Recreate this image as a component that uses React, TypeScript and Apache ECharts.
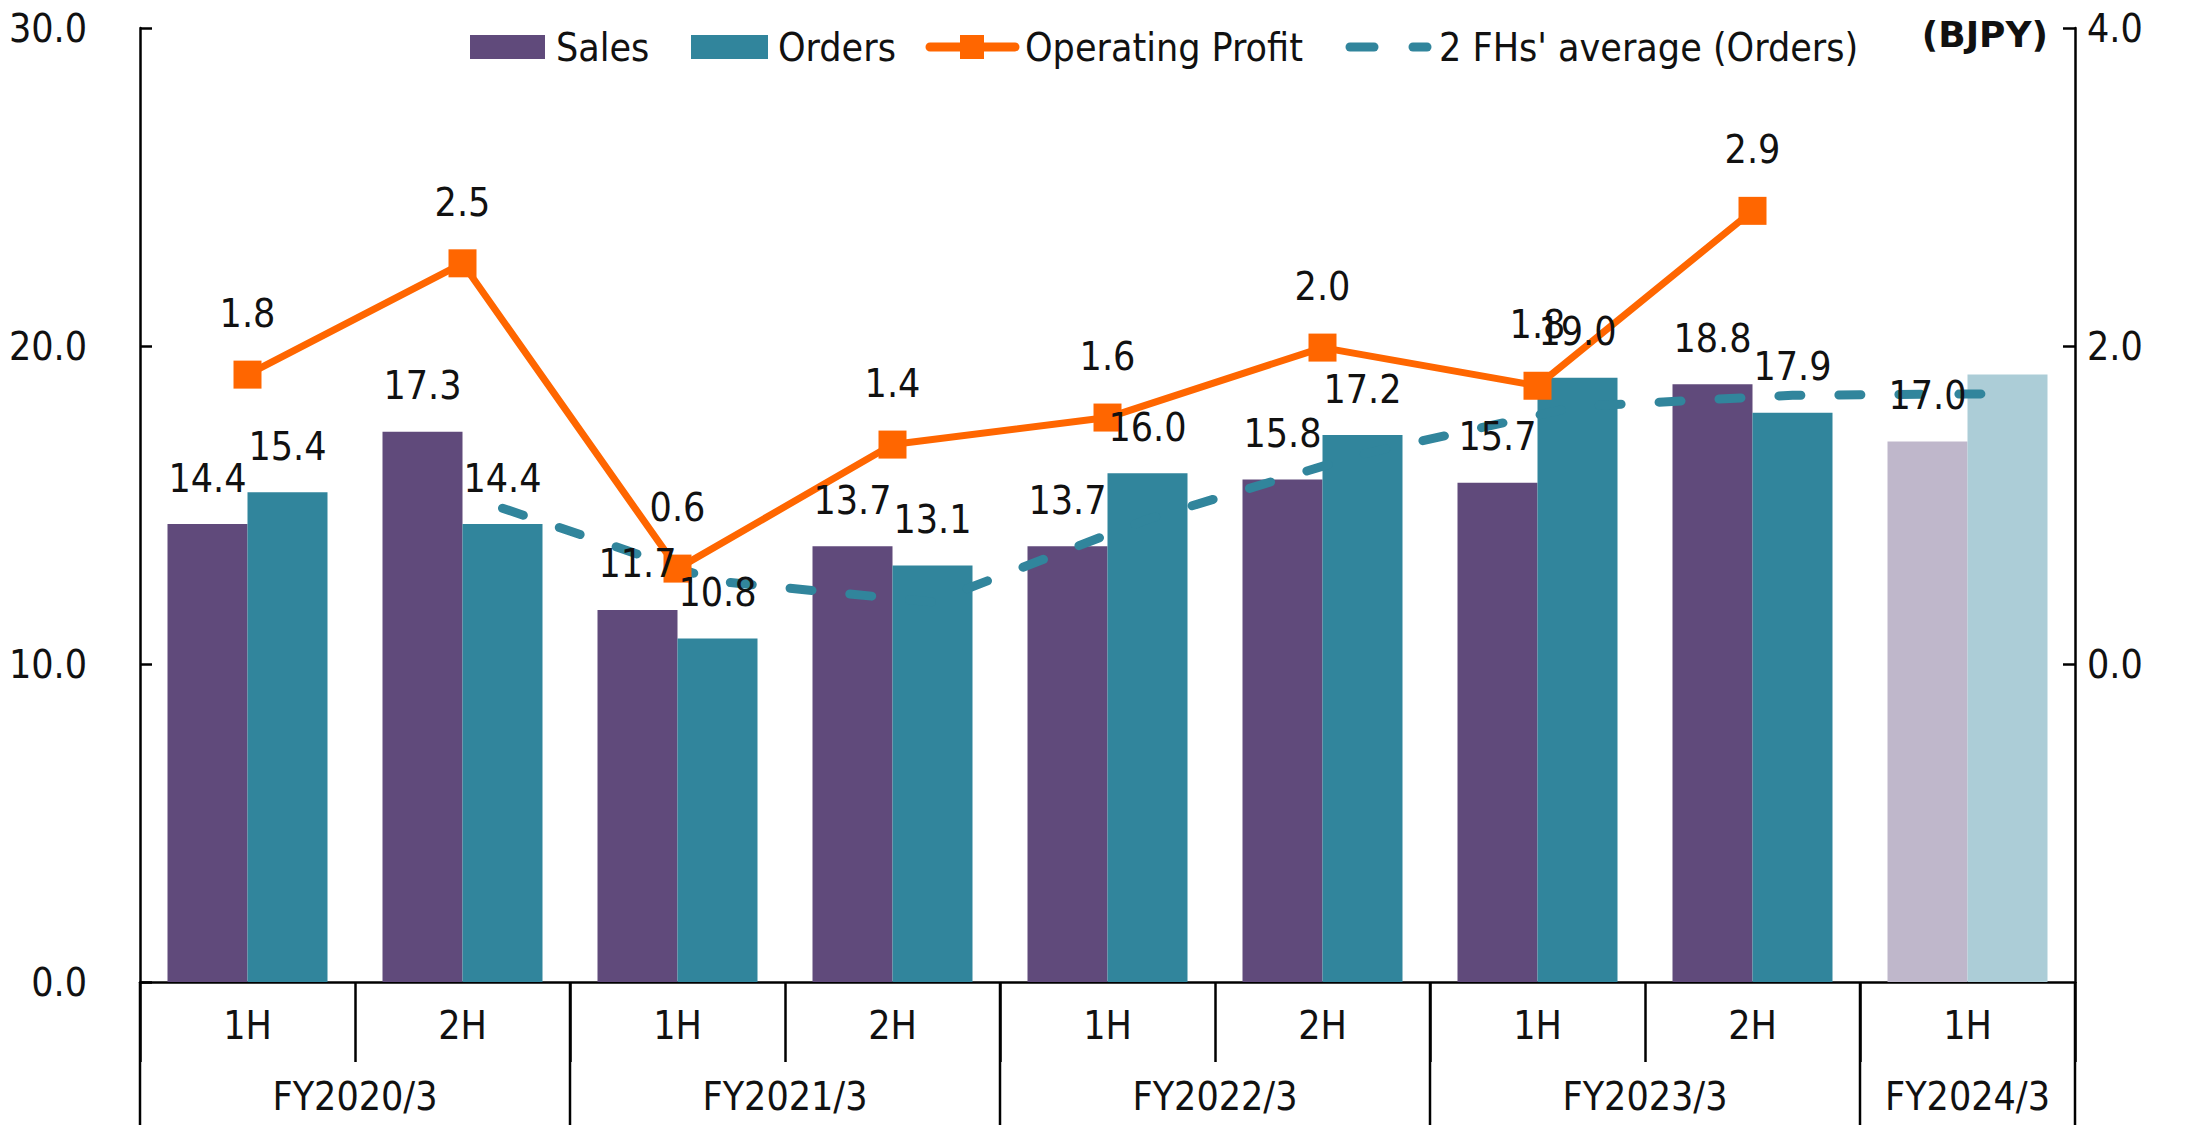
import React, { useEffect, useRef } from "react";
import * as echarts from "echarts";

const categories = ["1H", "2H", "1H", "2H", "1H", "2H", "1H", "2H", "1H"];
const fiscalYears = ["FY2020/3", "FY2021/3", "FY2022/3", "FY2023/3", "FY2024/3"];
const fiscalYearSpans = [2, 2, 2, 2, 1];
const sales = [14.4, 17.3, 11.7, 13.7, 13.7, 15.8, 15.7, 18.8, 17.0];
const orders = [15.4, 14.4, 10.8, 13.1, 16.0, 17.2, 19.0, 17.9, 19.1];
const operatingProfit = [1.82, 2.52, 0.6, 1.38, 1.55, 1.99, 1.75, 2.85, null];
const avgOrders = [null, 14.9, 12.6, 11.95, 14.55, 16.6, 18.1, 18.45, 18.5];
const leftTicks = [0, 10, 20, 30];
const rightTicks = [0, 2, 4];
const planIndex = 8; // last half-year shown in light colours, orders label hidden

const W = 2190;
const H = 1125;
const GRID_L = 140;
const GRID_R = 2075;
const GRID_T = 28;
const GRID_B = 982;
const BAR_W = 80;
const FONT = "'DejaVu Sans Condensed', 'DejaVu Sans', sans-serif";
const FS = 39;
const TXT = "#111111";
const PURPLE = "#604A7B";
const TEAL = "#31859C";
const PURPLE_L = "#BFB7CB";
const TEAL_L = "#ACCDD7";
const ORANGE = "#FF6600";

export default function App() {
  const ref = useRef<HTMLDivElement>(null);
  useEffect(() => {
    if (!ref.current) return;
    const chart = echarts.init(ref.current, undefined, { renderer: "svg" });
    const catW = (GRID_R - GRID_L) / categories.length;

    const fmt = (p: any) => {
      const v = Array.isArray(p.value) ? p.value[1] : p.value;
      return v == null || v === "-" ? "" : Number(v).toFixed(1);
    };
    const labelStyle = {
      show: true,
      position: "top",
      distance: 26,
      fontSize: FS,
      lineHeight: 40,
      color: TXT,
      fontFamily: FONT,
      formatter: fmt,
    };

    const salesData = sales.map((v, i) =>
      i === planIndex ? { value: v, itemStyle: { color: PURPLE_L } } : v
    );
    const ordersData = orders.map((v, i) =>
      i === planIndex ? { value: v, itemStyle: { color: TEAL_L } } : v
    );
    const ordersLabelData = orders.map((v, i) =>
      i === planIndex ? { value: v, label: { show: false } } : v
    );
    const avgPoints = avgOrders
      .map((v, i) => (v == null ? null : [i, v]))
      .filter((p) => p !== null) as number[][];

    // category table lines and fiscal-year labels below the axis
    const graphics: any[] = [];
    let start = 0;
    const boundaries: number[] = [0];
    fiscalYears.forEach((fy, k) => {
      const span = fiscalYearSpans[k];
      const cx = GRID_L + (start + span / 2) * catW;
      graphics.push({
        type: "text",
        x: cx,
        y: 1096,
        style: {
          text: fy,
          fill: TXT,
          font: `${FS}px ${FONT}`,
          align: "center",
          verticalAlign: "middle",
        },
      });
      start += span;
      boundaries.push(start);
    });
    boundaries.forEach((b) => {
      const x = GRID_L + b * catW;
      graphics.push({
        type: "line",
        shape: { x1: x, y1: GRID_B, x2: x, y2: H },
        style: { stroke: "#000", lineWidth: 2.5 },
      });
    });

    // legend
    const LY = 47;
    const legendText = (x: number, t: string) => ({
      type: "text",
      x,
      y: LY,
      style: { text: t, fill: TXT, font: `${FS}px ${FONT}`, align: "left", verticalAlign: "middle" },
    });
    graphics.push(
      { type: "rect", shape: { x: 470, y: LY - 12, width: 75, height: 24 }, style: { fill: PURPLE } },
      legendText(556, "Sales"),
      { type: "rect", shape: { x: 691, y: LY - 12, width: 77, height: 24 }, style: { fill: TEAL } },
      legendText(778, "Orders"),
      {
        type: "line",
        shape: { x1: 930, y1: LY, x2: 1015, y2: LY },
        style: { stroke: ORANGE, lineWidth: 9, lineCap: "round" },
      },
      { type: "rect", shape: { x: 960, y: LY - 12, width: 24, height: 24 }, style: { fill: ORANGE } },
      legendText(1025, "Operating Profit"),
      {
        type: "line",
        shape: { x1: 1350, y1: LY, x2: 1374, y2: LY },
        style: { stroke: TEAL, lineWidth: 9, lineCap: "round" },
      },
      {
        type: "line",
        shape: { x1: 1413, y1: LY, x2: 1427, y2: LY },
        style: { stroke: TEAL, lineWidth: 9, lineCap: "round" },
      },
      legendText(1439, "2 FHs' average (Orders)"),
      {
        type: "text",
        x: 2048,
        y: 34,
        style: {
          text: "(BJPY)",
          fill: TXT,
          font: `bold 36px 'DejaVu Sans', sans-serif`,
          align: "right",
          verticalAlign: "middle",
        },
      }
    );

    const hiddenX = {
      type: "category",
      data: categories,
      boundaryGap: true,
      show: false,
    };

    const option: any = {
      animation: false,
      backgroundColor: "#ffffff",
      textStyle: { fontFamily: FONT, color: TXT },
      grid: {
        left: GRID_L,
        right: W - GRID_R,
        top: GRID_T,
        bottom: H - GRID_B,
        containLabel: false,
      },
      xAxis: [
        {
          type: "category",
          data: categories,
          boundaryGap: true,
          axisLine: { show: true, lineStyle: { color: "#000", width: 2.5 } },
          axisTick: {
            show: true,
            inside: false,
            length: 80,
            alignWithLabel: false,
            lineStyle: { color: "#000", width: 2.5 },
          },
          axisLabel: {
            fontSize: FS,
            color: TXT,
            fontFamily: FONT,
            margin: 24,
            interval: 0,
          },
          splitLine: { show: false },
        },
        hiddenX,
      ],
      yAxis: [
        {
          type: "value",
          min: 0,
          max: 30,
          interval: 10,
          position: "left",
          axisLine: { show: true, lineStyle: { color: "#000", width: 2.5 } },
          axisTick: {
            show: true,
            inside: true,
            length: 12,
            customValues: leftTicks,
            lineStyle: { color: "#000", width: 2.5 },
          },
          axisLabel: {
            fontSize: FS,
            color: TXT,
            fontFamily: FONT,
            margin: 53,
            customValues: leftTicks,
            formatter: (v: number) => v.toFixed(1),
          },
          splitLine: { show: false },
        },
        {
          type: "value",
          min: -2,
          max: 4,
          interval: 2,
          position: "right",
          axisLine: { show: true, lineStyle: { color: "#000", width: 2.5 } },
          axisTick: {
            show: true,
            inside: true,
            length: 12,
            customValues: rightTicks,
            lineStyle: { color: "#000", width: 2.5 },
          },
          axisLabel: {
            fontSize: FS,
            color: TXT,
            fontFamily: FONT,
            margin: 12,
            customValues: rightTicks,
            formatter: (v: number) => (v < 0 ? "" : v.toFixed(1)),
          },
          splitLine: { show: false },
        },
      ],
      series: [
        {
          name: "Sales",
          type: "bar",
          data: salesData,
          barWidth: BAR_W,
          barGap: "0%",
          itemStyle: { color: PURPLE },
          z: 2,
        },
        {
          name: "Orders",
          type: "bar",
          data: ordersData,
          barWidth: BAR_W,
          barGap: "0%",
          itemStyle: { color: TEAL },
          z: 2,
        },
        {
          name: "2 FHs' average (Orders)",
          type: "custom",
          coordinateSystem: "cartesian2d",
          xAxisIndex: 0,
          yAxisIndex: 0,
          data: avgPoints,
          encode: { x: 0, y: 1 },
          renderItem: (params: any, api: any) => {
            if (params.dataIndex !== 0) return null;
            const pts = avgPoints.map((p) => {
              const c = api.coord([p[0], p[1]]);
              // line runs through the centres of the Orders bars
              return [c[0] + BAR_W / 2, c[1]];
            });
            return {
              type: "polyline",
              shape: { points: pts },
              style: {
                stroke: TEAL,
                lineWidth: 9,
                lineDash: [22, 38],
                lineCap: "round",
                lineJoin: "round",
                fill: "none",
              },
            };
          },
          z: 3,
        },
        {
          name: "Operating Profit",
          type: "line",
          yAxisIndex: 1,
          data: operatingProfit.map((v) => (v == null ? "-" : v)),
          symbol: "rect",
          symbolSize: 28,
          itemStyle: { color: ORANGE },
          lineStyle: { color: ORANGE, width: 7 },
          label: { ...labelStyle, distance: 27 },
          z: 4,
        },
        {
          name: "Sales label",
          type: "bar",
          xAxisIndex: 1,
          data: sales,
          barWidth: BAR_W,
          barGap: "0%",
          itemStyle: { color: "rgba(0,0,0,0)" },
          label: labelStyle,
          silent: true,
          z: 10,
        },
        {
          name: "Orders label",
          type: "bar",
          xAxisIndex: 1,
          data: ordersLabelData,
          barWidth: BAR_W,
          barGap: "0%",
          itemStyle: { color: "rgba(0,0,0,0)" },
          label: labelStyle,
          silent: true,
          z: 10,
        },
      ],
      graphic: graphics,
    };
    chart.setOption(option);
    return () => chart.dispose();
  }, []);

  return (
    <div
      ref={ref}
      style={{ position: "fixed", left: 0, top: 0, width: W, height: H, background: "#fff" }}
    />
  );
}
